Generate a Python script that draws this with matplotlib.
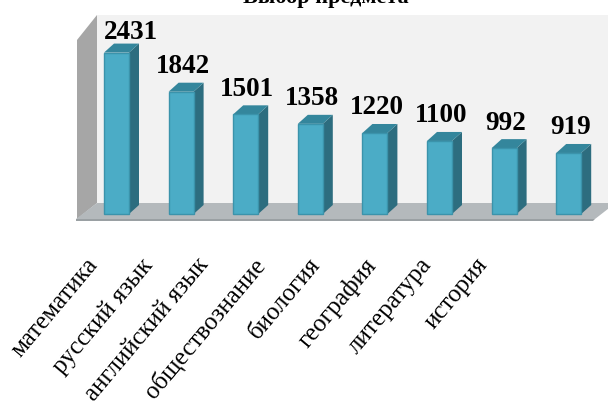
import numpy as np
import matplotlib
matplotlib.use("Agg")
import matplotlib.pyplot as plt
from matplotlib.patches import Polygon

# =========================================================
# DATA
# =========================================================

subjects = ["математика", "русский язык", "английский язык", "обществознание",
            "биология", "география", "литература", "история"]
counts = [2431, 1842, 1501, 1358, 1220, 1100, 992, 919]
title = "Выбор предмета"

# =========================================================
# LAYOUT (pixel geometry of the pseudo-3D box)
# =========================================================

W, H = 608, 403
X0_PX, STEP_PX = 116.5, 64.6     # centre of first bar front, bar spacing
Y0_PX, K = 214.0, 0.0664         # pixel row of value 0, px per unit

FRONT_COL = "#4bacc6"
TOP_COL = "#34869c"
SIDE_COL = "#2d6d7f"
EDGE_COL = "#3b93ab"


def to_data(px, py):
    return ((px - X0_PX) / STEP_PX, (Y0_PX - py) / K)


fig = plt.figure(figsize=(W / 100, H / 100), dpi=100)
ax = fig.add_axes([0, 0, 1, 1])
x_lo, y_lo = to_data(0, H)
x_hi, y_hi = to_data(W, 0)
ax.set_xlim(x_lo, x_hi)
ax.set_ylim(y_lo, y_hi)
ax.axis("off")


def poly(points_px, color, z, ec="none", lw=0):
    pts = [to_data(px, py) for px, py in points_px]
    ax.add_patch(Polygon(pts, closed=True, fc=color, ec=ec, lw=lw, zorder=z))


# back wall, side wall, floor
poly([(97, 15), (W + 5, 15), (W + 5, 203), (97, 203)], "#f2f2f2", 1)
poly([(77, 40), (97, 15), (97, 203), (77, 219)], "#a6a6a6", 2)
poly([(97, 203), (W + 5, 203), (W + 5, 205), (595, 219), (76, 219)], "#b4b9bc", 2)
poly([(76, 219), (595, 219), (593, 221), (76, 221)], "#9aa0a3", 2)

# =========================================================
# BARS
# =========================================================

half_w = 12.5 / STEP_PX
dx = 10.0 / STEP_PX
dy = 9.0 / K

for i, v in enumerate(counts):
    l, r = i - half_w, i + half_w
    side = [(r, 0), (r + dx, dy), (r + dx, v + dy), (r, v)]
    top = [(l, v), (r, v), (r + dx, v + dy), (l + dx, v + dy)]
    front = [(l, 0), (r, 0), (r, v), (l, v)]
    ax.add_patch(Polygon(side, closed=True, fc=SIDE_COL, ec="none", zorder=5))
    ax.add_patch(Polygon(top, closed=True, fc=TOP_COL, ec="none", zorder=5))
    ax.add_patch(Polygon(front, closed=True, fc=FRONT_COL, ec=EDGE_COL, lw=1.0, zorder=6))

    # value labels
    shift_x, shift_y = (14, 14) if i == 0 else (1.5, 18.5)
    ax.text(i + shift_x / STEP_PX, v + shift_y / K, str(v),
            ha="center", va="baseline", fontsize=19.5, fontweight="bold",
            family="Liberation Serif", color="black", zorder=8)

# category labels
for i, name in enumerate(subjects):
    lx, ly = to_data(100 + 55.7 * i - 15, 254)
    ax.text(lx, ly, name, rotation=50, rotation_mode="anchor",
            ha="right", va="top", fontsize=18, family="Liberation Serif",
            color="black", zorder=8)

# title (mostly cut off by the top border, as in the source)
tx, ty = to_data(326, 3)
ax.text(tx, ty, title, ha="center", va="baseline", fontsize=16,
        fontweight="bold", family="Liberation Serif", color="black", zorder=8)

fig.savefig("out.png", dpi=100, facecolor="white")
